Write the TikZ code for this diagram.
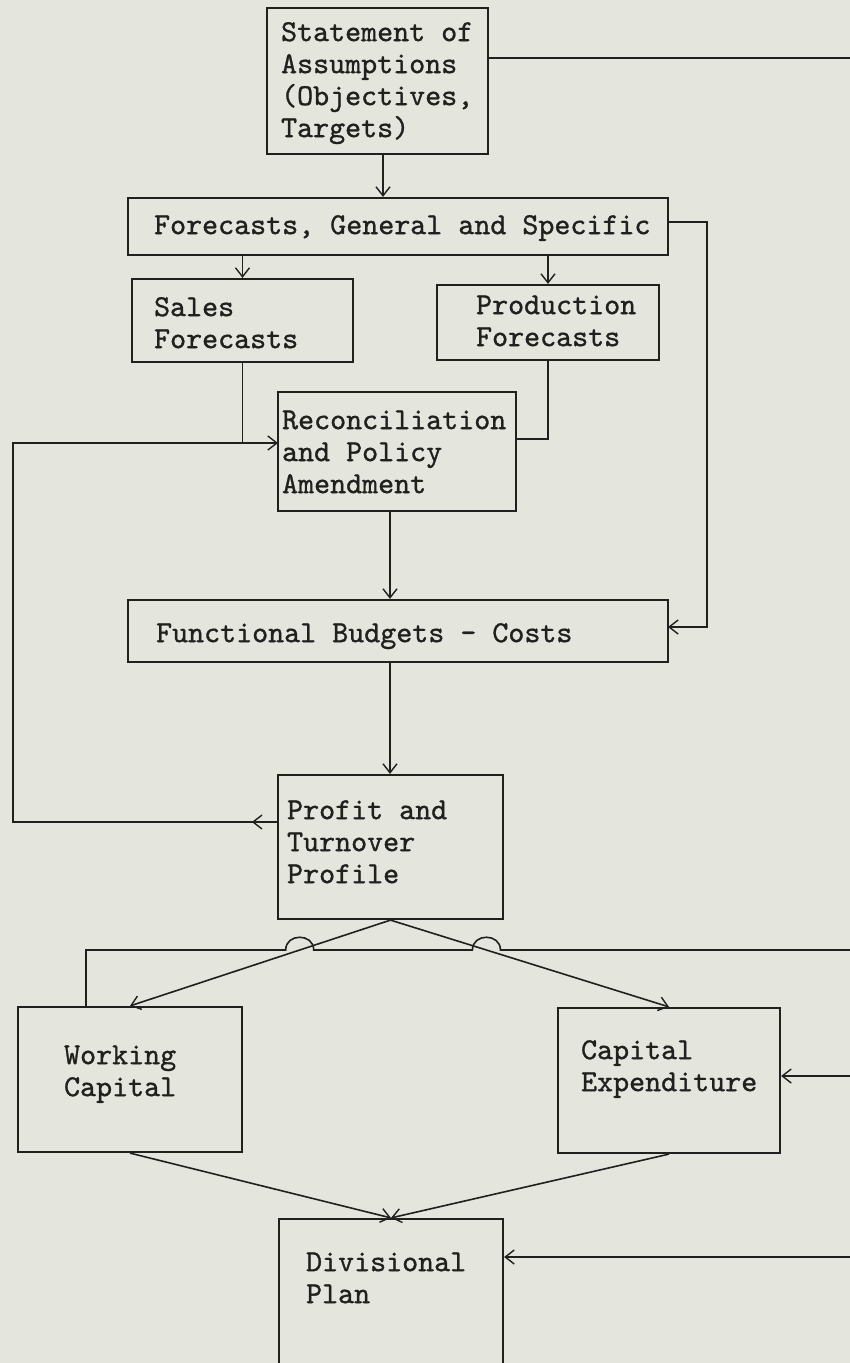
\documentclass[tikz,border=0pt]{standalone}
\usepackage{fontspec}
\newfontfamily\typer{lmmono10-regular.otf}[RawFeature={embolden=1}]
\usetikzlibrary{positioning,arrows.meta,calc}
\definecolor{paper}{RGB}{228,230,222}
\definecolor{ink}{RGB}{32,32,30}

\begin{document}
\begin{tikzpicture}[
	x=1pt, y=-1pt,
	font=\fontsize{30.5}{32}\selectfont\typer,
	box/.style={draw=ink, line width=2.2pt, rectangle, inner sep=0pt},
	txt/.style={align=left, inner sep=0pt, text=ink},
	line/.style={draw=ink, line width=1.6pt},
	arr/.style={line, -{Straight Barb[length=9pt,width=14pt,line width=1.4pt]}},
	]
\useasboundingbox (0,0) rectangle (850,1363);
\clip (0,0) rectangle (850,1363);
\fill [paper] (0,0) rectangle (850,1363);
% boxes
\node [box, minimum width=221pt, minimum height=146pt] (stmt) at (377.5,81) {};
\node [box, minimum width=540pt, minimum height=57pt] (fc) at (398,226.5) {};
\node [box, minimum width=221pt, minimum height=83pt] (sales) at (242.5,320.5) {};
\node [box, minimum width=222pt, minimum height=75pt] (prod) at (548,322.5) {};
\node [box, minimum width=238pt, minimum height=119pt] (rec) at (397,451.5) {};
\node [box, minimum width=540pt, minimum height=62pt] (fb) at (398,631) {};
\node [box, minimum width=225pt, minimum height=144pt] (prof) at (390.5,847) {};
\node [box, minimum width=224pt, minimum height=145pt] (wc) at (130,1079.5) {};
\node [box, minimum width=222pt, minimum height=145pt] (ce) at (669,1080.5) {};
\node [box, minimum width=224pt, minimum height=156pt] (dp) at (391,1297) {};
% texts
\node [txt, below right=11.6pt and 15pt of stmt.north west] (stmt-t) {\strut Statement of\\Assumptions\\(Objectives,\\Targets)};
\node [txt, below right=14.6pt and 27pt of fc.north west] (fc-t) {\strut Forecasts, General and Specific};
\node [txt, below right=15.6pt and 23pt of sales.north west] (sales-t) {\strut Sales\\Forecasts};
\node [txt, below right=7.6pt and 40pt of prod.north west] (prod-t) {\strut Production\\Forecasts};
\node [txt, below right=15.6pt and 5pt of rec.north west] (rec-t) {\strut Reconciliation\\and Policy\\Amendment};
\node [txt, below right=20.6pt and 29pt of fb.north west] (fb-t) {\strut Functional Budgets - Costs};
\node [txt, below right=22.6pt and 10pt of prof.north west] (prof-t) {\strut Profit and\\Turnover\\Profile};
\node [txt, below right=35.6pt and 47pt of wc.north west] (wc-t) {\strut Working\\Capital};
\node [txt, below right=29.6pt and 24pt of ce.north west] (ce-t) {\strut Capital\\Expenditure};
\node [txt, below right=30.6pt and 28pt of dp.north west] (dp-t) {\strut Divisional\\Plan};
% connectors
\coordinate (edgeA) at (850,58);
\draw [line] (stmt.east |- edgeA) -- (edgeA);
\coordinate (colA) at (383,0);
\draw [arr] (stmt.south -| colA) -- (fc.north -| colA);
\draw [arr] (fc.south -| sales.north) -- (sales.north);
\draw [arr] (fc.south -| prod.north) -- (prod.north);
\coordinate (recL) at (278,443);
\coordinate (recR) at (516,439);
\draw [arr] (sales.south) |- (recL);
\draw [line] (prod.south) |- (recR);
\coordinate (fcR) at (707,222);
\coordinate (fbR) at (668,627);
\draw [arr] (fc.east |- fcR) -- (fcR) |- (fbR);
\coordinate (colB) at (390,0);
\draw [arr] (rec.south -| colB) -- (fb.north -| colB);
\draw [arr] (fb.south -| colB) -- (prof.north -| colB);
% feedback loop
\coordinate (loopB) at (13,822);
\coordinate (loopT) at (13,443);
\draw [line] (prof.west |- loopB) -- (loopB) -- (loopT) -- (sales.south |- loopT);
\draw [arr] (prof.west |- loopB) -- ++(-25,0);
% split
\draw [arr] (prof.south) -- (wc.north);
\draw [arr] (prof.south) -- (ce.north);
\coordinate (hl) at (86,950);
\coordinate (hr) at (850,950);
\coordinate (j1) at (intersection of prof.south--wc.north and hl--hr);
\coordinate (j2) at (intersection of prof.south--ce.north and hl--hr);
\draw [line] (wc.north -| hl) -- (hl) -- ([xshift=-14pt]j1)
	.. controls +(0,-17) and +(0,-17) .. ([xshift=14pt]j1) -- ([xshift=-14pt]j2)
	.. controls +(0,-17) and +(0,-17) .. ([xshift=14pt]j2) -- (hr);
\coordinate (ceR) at (850,1076);
\draw [arr] (ceR) -- (ce.east |- ceR);
\draw [arr] (wc.south) -- (dp.north);
\draw [arr] (ce.south) -- (dp.north);
\coordinate (dpR) at (850,1257);
\draw [arr] (dpR) -- (dp.east |- dpR);
\end{tikzpicture}
\end{document}
